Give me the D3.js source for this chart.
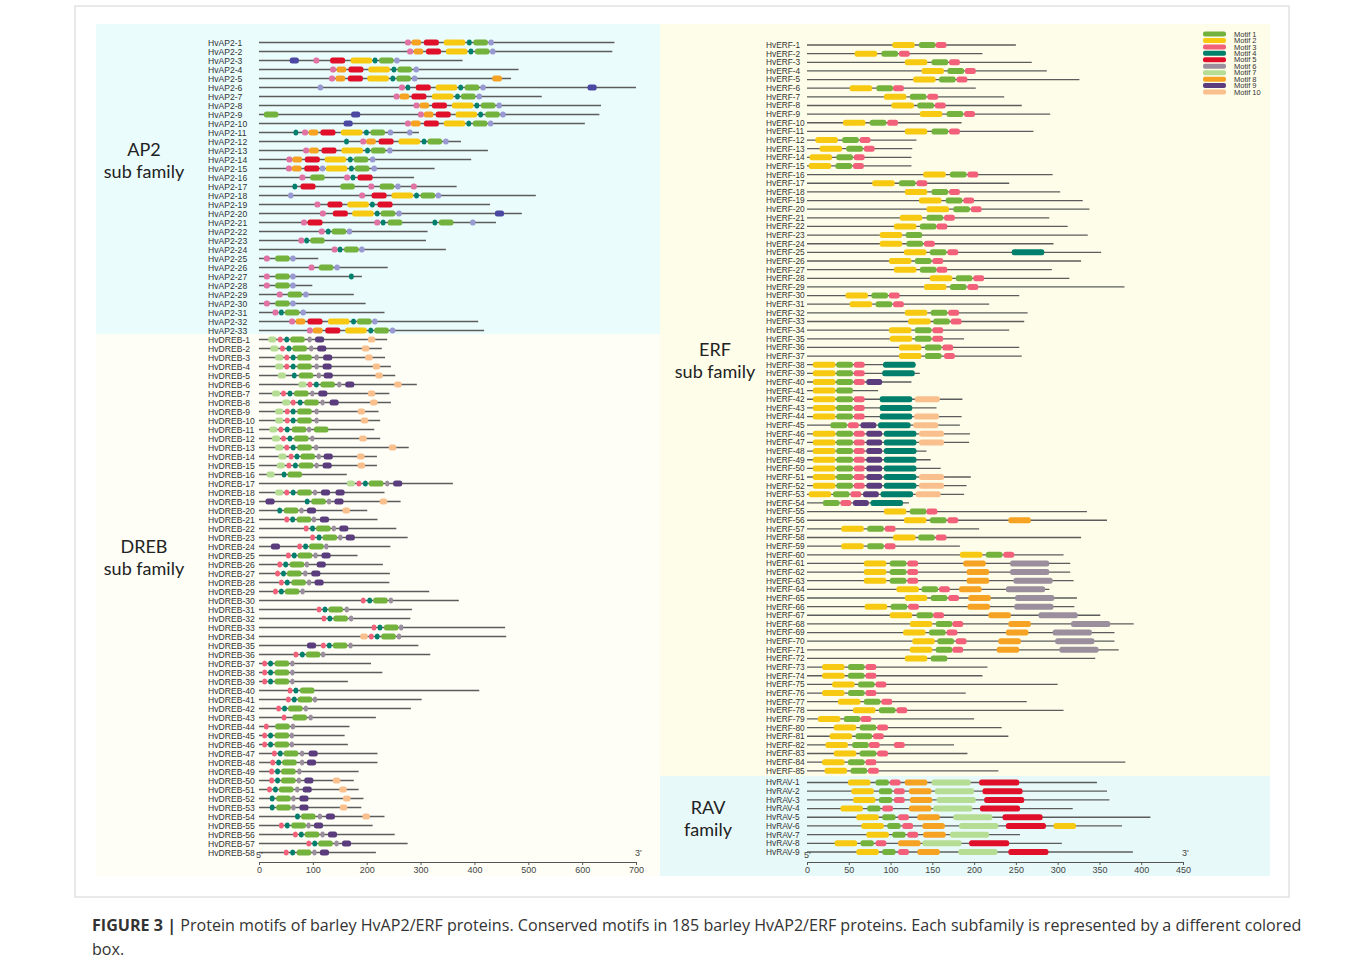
<!DOCTYPE html>
<html>
<head>
<meta charset="utf-8">
<script src="https://cdn.jsdelivr.net/npm/d3@7"></script>
<style>
  body { margin: 0; background: #fff; }
  svg { display: block; }
</style>
</head>
<body>
<div id="chart"></div>
<script>
// Motif maps of barley HvAP2/ERF proteins, two MEME panels side by side.
// Each protein: total length (aa) + motif starts "key+start" (aa).

const ap2Names  = d3.range(1, 34).map(i => `HvAP2-${i}`);
const drebNames = d3.range(1, 59).map(i => `HvDREB-${i}`);
const erfNames  = d3.range(1, 86).map(i => `HvERF-${i}`);
const ravNames  = d3.range(1, 10).map(i => `HvRAV-${i}`);

const ap2Len = [660,656,378,482,468,700,525,635,632,605,297,375,425,394,326,288,367,
  514,429,488,440,313,310,347,110,239,191,99,176,198,233,407,418];
const ap2Motifs = [
  "m271 o283 r306 y343 t386 g398 v426", "m275 o287 r310 y347 t389 g401 v429",
  "b57 m101 r132 y170 t211 g223 v251", "m132 o144 r166 y203 t246 g257 v287",
  "m130 o142 r165 y201 t244 g255 v284 o433", "v109 m260 t272 r291 y328 t370 g382 v411 b610",
  "m250 o261 r283 y321 t364 g375 v404", "m287 o298 r321 y358 t400 g412 v441",
  "g9 b171 m295 o306 r328 y365 t407 g420 v448", "b157 m271 o282 r306 y343 t385 g397 v425",
  "t64 m80 o92 r114 y152 t195 g207 v239 v275", "t158 m188 o199 r222 y259 t302 g313 v342",
  "m82 o93 r116 y153 t197 g208 v238", "m51 o62 r85 y122 t165 g176 v206",
  "m50 o61 r84 v113 y124 t167 g178 v209", "m75 g95 m158 t170 r183",
  "t62 r77 g151 m203 g224 v253 m282", "v54 m186 r209 y246 t288 g300 v328",
  "m103 r127 y164 t206 r220", "m113 r137 y173 t215 g226 v255 b438",
  "m78 r90 m214 t226 g239 t322 g334 v392", "m111 t124 g135 v163",
  "m73 t84 g95", "m135 t146 g158 v186", "m9 g30 v58", "m92 g111 v140",
  "m9 g30 v58 t167", "m9 g30 v58", "m33 g53 v82", "m9 g30 v58",
  "m25 t37 g48 v77", "m56 o68 r90 y128 t171 g182 v210", "m89 o100 r123 y160 t203 g214 v243"
];

const drebLen = [238,228,234,245,253,293,242,245,222,225,214,225,278,219,219,163,360,
  233,263,201,220,255,276,244,183,230,243,242,316,371,284,281,457,459,296,318,208,229,
  165,409,302,282,217,168,159,165,220,220,185,176,185,194,190,233,211,252,276,217];
const drebMotifs = [
  "l17 p35 t47 g58 s90 u104 e202", "l21 p39 t51 g62 s93 u108 e191",
  "l30 p47 t59 g71 s103 u119 e197", "l30 p47 t59 g71 s103 u118 e211",
  "l35 t61 g74 s107 u120 e216", "l73 p90 t102 g114 s145 u160 e251",
  "l24 p41 t53 g65 s95 u110 e202", "l43 p59 t72 g84 s114 u131 e206",
  "l30 p48 t59 g71 s103 e183", "l30 p48 t59 g71 s103 e189",
  "l19 p36 t48 g61 s89 g102", "l24 p41 t53 g65 s95 e186",
  "l30 p47 t59 g71 s102 e241", "l36 p55 t66 g77 s107 u120 e182",
  "l33 p51 t63 g74 s103 u118 e183", "l14 t42 g53",
  "l163 p181 t193 g204 s234 u249", "l30 p47 t59 g71 s100 u115 u142",
  "u12 t85 g97 s126 u140 e224", "t34 g46 s75 u89 e155",
  "p47 t58 g70 s98 u113", "p83 t95 g106 s135 u149",
  "p95 t107 g118 s147 u161", "u22 p71 t82 g93 s121",
  "p50 t61 g72 s101 u116", "p34 t45 g57 s85 u107",
  "p30 t41 g52 s82 u97", "p37 t48 g60 s89 u103",
  "p26 t37 g48 s77", "p189 t201 g212 s241",
  "p107 t118 g129 s159", "p116 t127 g138 s167",
  "p209 t220 g232 s260", "e188 p204 t215 g227 s256",
  "u89 p115 t126 g137 s166", "p64 t76 g87 s115",
  "p6 t17 g29 s58", "p6 t17 g29 s58", "p6 t17 g29 s58",
  "p53 t64 g76", "p50 t61 g72 s100", "p32 t43 g54 s83",
  "p42 g62 s92", "p9 g30 s59", "p6 t17 g29 s57", "p6 t17 g29 s57",
  "p24 t35 g46 s76 u92", "p21 t32 g43 s76 u89", "p19 t30 g41 s71",
  "p19 t30 g41 s70 u84 e137", "p15 t26 g37 s67 u81 e149",
  "t20 g32 s60 u75 e156", "t20 g32 s60 u75 e150", "t67 g78 s109 u124 e192",
  "p37 t48 g60 s88 u102", "p63 t74 g85 s114 u128",
  "p88 t99 g110 s140 u154", "p46 t58 g70 s99 u113"
];

const erfLen = [250,210,269,287,326,202,236,257,291,185,271,131,126,125,125,294,242,303,
  330,338,290,312,336,295,352,328,293,314,380,254,218,264,260,242,188,254,257,130,135,
  125,85,186,155,185,183,195,194,143,148,160,196,191,188,122,335,359,206,328,183,307,
  315,315,319,290,323,320,351,391,368,368,373,345,216,210,300,190,263,307,200,233,241,
  176,192,381,229];
const erfMotifs = [
  "y102 g134 p154", "y57 g89 p110", "y117 g149 p170", "y137 g168 p189", "y127 g158 p179",
  "y51 g83 p103", "y92 g123 p144", "y101 g132 p153", "y135 g167 p188", "y43 g75 p96",
  "y117 g149 p170", "y10 g42 p63", "y15 g47 p68", "y3 g35 p56", "y2 g34 p55",
  "y139 g171 p192", "y78 g110 p131", "y117 g149 p170", "y134 g166 p187", "y143 g175 p196",
  "y111 g143 p164", "y104 g135 p155", "y87 g118", "y87 g119 p140", "y116 g147 p168 t245",
  "y98 g129 p150", "y104 g135 p155", "y147 g178 p199", "y140 g171 p192", "y46 g77 p98",
  "y51 g82 p103", "y117 g148 p169", "y121 g151 p172", "y98 g129 p150", "y99 g129 p150",
  "y110 g141 p162", "y110 g141 p164", "y7 g35 p56 t91", "y7 g35 p56 t90", "y7 g35 p56 u71",
  "y7 g35", "y7 g35 p56 t87 e129", "y7 g35 p56 t87", "y7 g35 p56 t87 e128",
  "g28 p49 u64 t85 e127", "y7 g35 p56 u71 t92 e134", "y7 g35 p56 u71 t92 e134",
  "y7 g35 p56 u71 t92", "y7 g35 p56 u71 t92", "y7 g35 p56 u71 t92",
  "y7 g35 p56 u71 t92 e134", "y7 g35 p56 u71 t92 e134", "y2 g31 p52 u67 t88 e130",
  "g19 p40 u55 t76", "y92 g123 p143", "y116 g147 p168 o241", "y41 g72 p93",
  "y103 g133 p154", "y41 g72 p93", "y183 g214 p235",
  "y68 g99 p120 o187 s243", "y68 g99 p120 o191 s243", "y68 g99 p120 o191 s247",
  "y107 g137 p158 o182 s238", "y117 g148 p169 o193 s249", "y69 g100 p121 o192 s248",
  "y99 g131 p151 o217 s277", "y123 g154 p174 o241 s316", "y115 g146 p167 o238 s294",
  "y126 g156 p178 o229 s297", "y123 g154 p174 o227 s302", "y117 g148",
  "y18 g49 p70", "y18 g49 p70", "y30 g61 p82", "y18 g49 p70", "y37 g68 p89",
  "y55 g86 p107", "y13 g44 p64", "y32 g63 p84", "y27 g58 p79", "y22 g54 p74 p104",
  "y32 g63 p84", "y18 g49 p70", "y21 g52 p73"
];

const ravLen = [347,359,362,318,411,377,255,305,390];
const ravMotifs = [
  "y49 g82 p99 o117 l149 r206", "y53 g86 p104 o122 l153 r210",
  "y55 g86 p104 o123 l155 r212", "y40 g72 p90 o122 l151 r207",
  "y59 g90 p109 o132 l175 r234", "y65 g96 p114 o138 l182 r238 y295",
  "y71 g102 p120 o139 l171", "y33 g64 p82 o109 l138 r194",
  "y59 g90 p109 o132 l181 r241"
];

const legendLabels = d3.range(1, 11).map(i => `Motif ${i}`);
const legendKeys = ["g","y","p","t","r","s","l","o","u","e"];

const motifColor = {
  g: "#74b23e", y: "#f7c910", p: "#f2607a", t: "#00806c", r: "#e0102a",
  s: "#9b8f9d", l: "#b6dd94", o: "#f6a324", u: "#5b3d7d", e: "#f9c08e",
  m: "#e072a4", v: "#9a9ad2", b: "#4a48a2"
};
// motif widths in aa, per panel
const widthLeft = { m: 11, o: 18, r: 28, y: 40, t: 9, g: 27, v: 10, b: 17, l: 15, p: 9, s: 8, u: 17, e: 14 };
const widthERF  = { y: 27, g: 20, p: 13, t: 39, u: 19, e: 30, o: 27, s: 47 };
const widthRAV  = { y: 27, g: 16, p: 13, o: 27, l: 47, r: 48 };

const W = 1362, H = 966;
const svg = d3.select("#chart").append("svg").attr("width", W).attr("height", H);
svg.append("rect").attr("width", W).attr("height", H).attr("fill", "#fff");

// frame + panel backgrounds
svg.append("rect").attr("x", 75).attr("y", 6).attr("width", 1214).attr("height", 891)
  .attr("fill", "none").attr("stroke", "#d4d4d4");
const bgs = [
  [96, 24, 564, 310, "#eafcfc"],
  [96, 334, 564, 542, "#fefef7"],
  [660, 24, 610, 752, "#fefde9"],
  [660, 776, 610, 100, "#e8f9f9"]
];
bgs.forEach(b => svg.append("rect").attr("x", b[0]).attr("y", b[1])
  .attr("width", b[2]).attr("height", b[3]).attr("fill", b[4]));

const xL = d3.scaleLinear().domain([0, 700]).range([259, 636]);
const xR = d3.scaleLinear().domain([0, 450]).range([807, 1183]);
const yL = d3.scalePoint().domain(ap2Names.concat(drebNames)).range([42.5, 852.5]);
const yE = d3.scalePoint().domain(erfNames).range([45, 770.8]);
const yV = d3.scalePoint().domain(ravNames).range([782.5, 852]);

function parse(str, widths) {
  return str.split(" ").map(tok => {
    const k = tok[0], s = +tok.slice(1);
    return { k, s, w: widths[k] };
  });
}

function drawRows(names, lens, motifs, widths, x, y, labelX, fs) {
  const rows = names.map((n, i) => ({ name: n, len: lens[i], motifs: parse(motifs[i], widths) }));
  const g = svg.append("g");
  const row = g.selectAll("g.row").data(rows).join("g").attr("class", "row")
    .attr("transform", d => `translate(0,${y(d.name)})`);
  row.append("line")
    .attr("x1", x(0)).attr("x2", d => x(d.len))
    .attr("stroke", "#5c5c5c").attr("stroke-width", 1.3);
  row.selectAll("rect").data(d => d.motifs).join("rect")
    .attr("x", m => x(m.s)).attr("width", m => x(m.s + m.w) - x(m.s))
    .attr("y", -3).attr("height", 6).attr("rx", 2.5)
    .attr("fill", m => motifColor[m.k]);
  row.append("text")
    .attr("x", labelX)
    .attr("dy", "0.35em")
    .style("font-family", "'Liberation Sans', Arial, sans-serif")
    .style("font-size", fs + "px").attr("fill", "#333")
    .text(d => d.name);
}

drawRows(ap2Names, ap2Len, ap2Motifs, widthLeft, xL, yL, 208, 8.6);
drawRows(drebNames, drebLen, drebMotifs, widthLeft, xL, yL, 208, 8.6);
drawRows(erfNames, erfLen, erfMotifs, widthERF, xR, yE, 766, 8.3);
drawRows(ravNames, ravLen, ravMotifs, widthRAV, xR, yV, 766, 8.3);

// axes
function drawAxis(x, ticks) {
  const ax = svg.append("g").attr("transform", "translate(0,862)")
    .call(d3.axisBottom(x).tickValues(ticks).tickSize(3).tickSizeOuter(3));
  ax.select(".domain").attr("stroke", "#555");
  ax.selectAll(".tick line").attr("stroke", "#555");
  ax.selectAll("text").attr("fill", "#444").attr("dy", "0.55em")
    .style("font-family", "'Liberation Sans', Arial, sans-serif").style("font-size", "9px");
  const r = x.range();
  svg.append("text").attr("x", r[0] - 3).attr("y", 858).text("5'")
    .style("font-family", "'Liberation Sans', Arial, sans-serif").style("font-size", "9px").attr("fill", "#444");
  svg.append("text").attr("x", r[1] - 1).attr("y", 856).text("3'")
    .style("font-family", "'Liberation Sans', Arial, sans-serif").style("font-size", "9px").attr("fill", "#444");
}
drawAxis(xL, d3.range(0, 701, 100));
drawAxis(xR, d3.range(0, 451, 50));

// group labels
const groupLabels = [
  [144, 150, "AP2", "sub family"],
  [144, 547, "DREB", "sub family"],
  [715, 350, "ERF", "sub family"],
  [708, 808, "RAV", "family"]
];
groupLabels.forEach(gl => {
  const t = svg.append("text").attr("x", gl[0]).attr("y", gl[1] + 6)
    .attr("text-anchor", "middle").attr("fill", "#222")
    .style("font-family", "Lato, 'Open Sans', sans-serif").style("font-size", "18px");
  t.append("tspan").attr("x", gl[0]).text(gl[2]);
  t.append("tspan").attr("x", gl[0]).attr("dy", 22).text(gl[3]);
});

// legend
const leg = svg.append("g");
legendLabels.forEach((lab, i) => {
  const yy = 34 + i * 6.45;
  leg.append("rect").attr("x", 1203).attr("y", yy - 2.5).attr("width", 23).attr("height", 5)
    .attr("rx", 2).attr("fill", motifColor[legendKeys[i]]);
  leg.append("text").attr("x", 1234).attr("y", yy).attr("dy", "0.35em").text(lab)
    .style("font-family", "'Liberation Sans', Arial, sans-serif").style("font-size", "7.5px").attr("fill", "#333");
});

// caption
const cap = svg.append("text").attr("x", 92).attr("y", 931).attr("fill", "#333")
  .style("font-family", "'Open Sans', sans-serif").style("font-size", "16.1px");
cap.append("tspan").style("font-weight", "bold").text("FIGURE 3 | ");
cap.append("tspan").text("Protein motifs of barley HvAP2/ERF proteins. Conserved motifs in 185 barley HvAP2/ERF proteins. Each subfamily is represented by a different colored");
svg.append("text").attr("x", 92).attr("y", 955).attr("fill", "#333")
  .style("font-family", "'Open Sans', sans-serif").style("font-size", "16.1px").text("box.");
</script>
</body>
</html>
